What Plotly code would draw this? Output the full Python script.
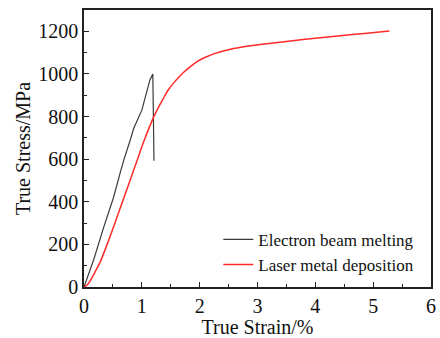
import plotly.graph_objects as go

ebm_strain = [0, 0.03, 0.17, 0.34, 0.51, 0.63, 0.69, 0.80, 0.86, 1.00, 1.05, 1.09, 1.14, 1.19, 1.21]
ebm_stress = [0, 22, 130, 280, 420, 540, 598, 690, 745, 830, 880, 930, 972, 999, 592]

lmd_strain = [0, 0.05, 0.11, 0.20, 0.285, 0.40, 0.515, 0.57, 0.77, 0.92, 1.03, 1.20, 1.31, 1.378,
              1.45, 1.551, 1.65, 1.724, 1.85, 1.955, 2.10, 2.24, 2.53, 2.876, 3.20, 3.57, 4.00,
              4.43, 4.85, 5.28]
lmd_stress = [0, 8, 30, 75, 120, 200, 285, 327, 480, 595, 680, 795, 855, 888,
              922, 958, 988, 1008, 1037, 1058, 1078, 1094, 1116, 1132, 1143, 1155, 1167,
              1179, 1190, 1202]

names = ["Electron beam melting", "Laser metal deposition"]
x_ticks = [0, 1, 2, 3, 4, 5, 6]
y_ticks = [0, 200, 400, 600, 800, 1000, 1200]

font_family = "Liberation Serif, Times New Roman, serif"

fig = go.Figure()
fig.add_trace(go.Scatter(x=ebm_strain, y=ebm_stress, mode="lines", name=names[0],
                         line=dict(color="#3a3a3a", width=1.2)))
fig.add_trace(go.Scatter(x=lmd_strain, y=lmd_stress, mode="lines", name=names[1],
                         line=dict(color="#ff2a2a", width=1.5, shape="spline", smoothing=0.5)))

axis_common = dict(
    showline=True, linecolor="#222", linewidth=1.5, mirror=True,
    ticks="inside", ticklen=5, tickwidth=1.2, tickcolor="#222",
    showgrid=False, zeroline=False, automargin=False,
    tickfont=dict(family=font_family, size=20, color="#111"),
)

fig.update_xaxes(range=[0, 6], tickvals=x_ticks, ticktext=[str(v) for v in x_ticks],
                 minor=dict(dtick=0.5, ticks="inside", ticklen=3, tickcolor="#222", showgrid=False),
                 title=dict(text="True Strain/%", font=dict(family=font_family, size=20, color="#111"),
                            standoff=2),
                 **axis_common)
fig.update_yaxes(range=[0, 1300], tickvals=y_ticks, ticktext=[str(v) for v in y_ticks],
                 minor=dict(dtick=100, ticks="inside", ticklen=3, tickcolor="#222", showgrid=False),
                 title=dict(text="True Stress/MPa", font=dict(family=font_family, size=20, color="#111"),
                            standoff=2),
                 **axis_common)

fig.update_layout(
    width=440, height=338,
    margin=dict(l=84, r=9, t=10, b=51),
    paper_bgcolor="white", plot_bgcolor="white",
    showlegend=True,
    legend=dict(x=0.387, y=0.235, xanchor="left", yanchor="top",
                font=dict(family=font_family, size=17, color="#111"),
                bgcolor="rgba(0,0,0,0)", tracegroupgap=0, itemwidth=30),
)

fig.write_html("out.html")
